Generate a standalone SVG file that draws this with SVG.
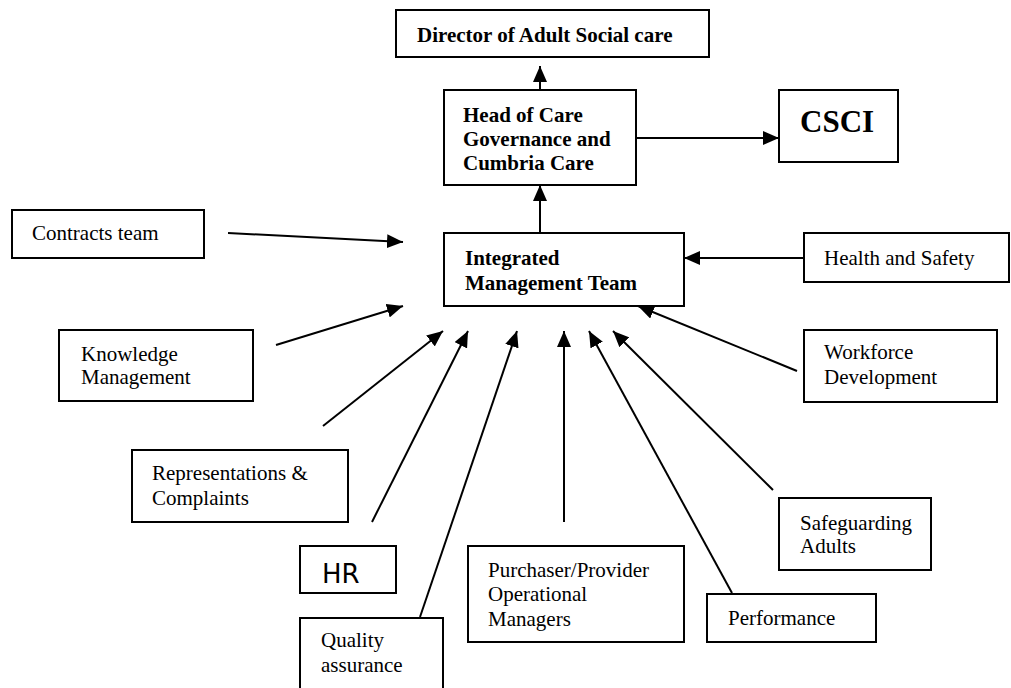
<svg xmlns="http://www.w3.org/2000/svg" width="1011" height="688" viewBox="0 0 1011 688">
<style>
.box{fill:#fff;stroke:#000;stroke-width:2}
.t{font-family:"Liberation Serif","Times New Roman",serif;font-size:21px;fill:#000}
.b{font-weight:bold}
.c{stroke:#000;stroke-width:2;fill:none;marker-end:url(#ah)}
</style>
<defs>
<marker id="ah" markerUnits="userSpaceOnUse" markerWidth="17" markerHeight="14" refX="16" refY="7" orient="auto">
<path d="M0,0 L16,7 L0,14 z" fill="#000"/>
</marker>
</defs>
<rect width="1011" height="688" fill="#fff"/>
<g id="connectors">
<line class="c" x1="540" y1="90" x2="540" y2="66"/>
<line class="c" x1="636" y1="138" x2="779" y2="138"/>
<line class="c" x1="540" y1="233" x2="540" y2="185"/>
<line class="c" x1="228" y1="233" x2="403" y2="242"/>
<line class="c" x1="804" y1="258" x2="684" y2="258"/>
<line class="c" x1="276" y1="345" x2="403" y2="306"/>
<line class="c" x1="797" y1="371" x2="638" y2="306"/>
<line class="c" x1="323" y1="426" x2="443" y2="331"/>
<line class="c" x1="372" y1="522" x2="468" y2="331"/>
<line class="c" x1="420" y1="617" x2="517" y2="331"/>
<line class="c" x1="564" y1="522" x2="564" y2="331"/>
<line class="c" x1="732" y1="593" x2="589" y2="331"/>
<line class="c" x1="773" y1="490" x2="613" y2="331"/>
</g>
<g id="director"><rect class="box" x="396" y="10" width="313" height="47"/><text class="t b" x="417" y="42">Director of Adult Social care</text></g>
<g id="head"><rect class="box" x="444" y="90" width="192" height="95"/><text class="t b" x="463" y="122">Head of Care</text><text class="t b" x="463" y="146">Governance and</text><text class="t b" x="463" y="170">Cumbria Care</text></g>
<g id="csci"><rect class="box" x="779" y="90" width="119" height="72"/><text class="t b" x="800" y="132" style="font-size:31px">CSCI</text></g>
<g id="imt"><rect class="box" x="444" y="233" width="240" height="73"/><text class="t b" x="465" y="265">Integrated</text><text class="t b" x="465" y="290">Management Team</text></g>
<g id="contracts"><rect class="box" x="12" y="210" width="192" height="48"/><text class="t" x="32" y="240">Contracts team</text></g>
<g id="health"><rect class="box" x="804" y="233" width="205" height="49"/><text class="t" x="824" y="265">Health and Safety</text></g>
<g id="knowledge"><rect class="box" x="59" y="330" width="194" height="71"/><text class="t" x="81" y="361">Knowledge</text><text class="t" x="81" y="384">Management</text></g>
<g id="workforce"><rect class="box" x="804" y="330" width="193" height="72"/><text class="t" x="824" y="359">Workforce</text><text class="t" x="824" y="384">Development</text></g>
<g id="representations"><rect class="box" x="132" y="450" width="216" height="72"/><text class="t" x="152" y="480">Representations &amp;</text><text class="t" x="152" y="505">Complaints</text></g>
<g id="safeguarding"><rect class="box" x="779" y="498" width="152" height="72"/><text class="t" x="800" y="530">Safeguarding</text><text class="t" x="800" y="553">Adults</text></g>
<g id="hr"><rect class="box" x="300" y="546" width="96" height="47"/><text x="322" y="583" style="font-family:'DejaVu Sans','Liberation Sans',sans-serif;font-size:26px;fill:#000">HR</text></g>
<g id="purchaser"><rect class="box" x="468" y="546" width="216" height="96"/><text class="t" x="488" y="577">Purchaser/Provider</text><text class="t" x="488" y="601">Operational</text><text class="t" x="488" y="626">Managers</text></g>
<g id="performance"><rect class="box" x="707" y="594" width="169" height="48"/><text class="t" x="728" y="625">Performance</text></g>
<g id="quality"><rect class="box" x="300" y="618" width="143" height="80"/><text class="t" x="321" y="647">Quality</text><text class="t" x="321" y="672">assurance</text></g>
</svg>
